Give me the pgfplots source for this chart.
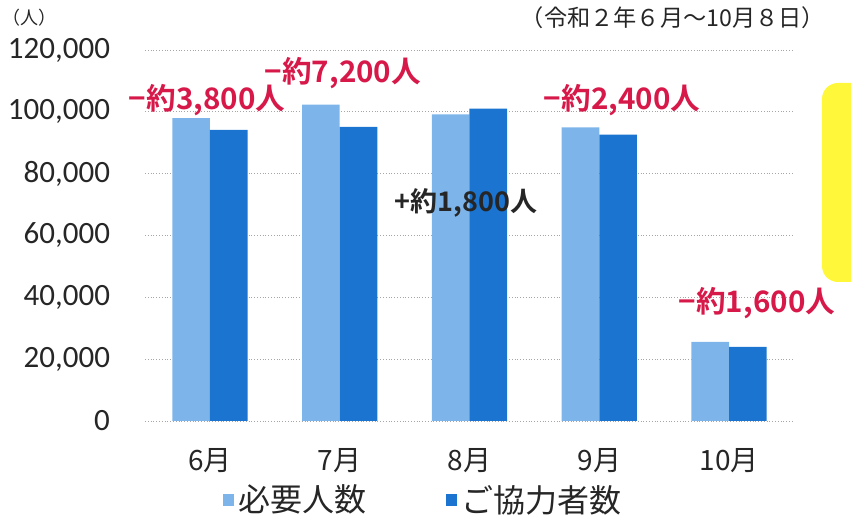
\documentclass[border=0pt]{standalone}
\usepackage{pgfplots}
\pgfplotsset{compat=1.18}
\usepackage{fontspec}
\setmainfont{Carlito}
\newfontfamily\jp{Noto Sans CJK JP}
\newfontfamily\jpb{Noto Sans CJK JP Bold}
\definecolor{need}{HTML}{7DB5EA}
\definecolor{coop}{HTML}{1B74CF}
\definecolor{redlab}{HTML}{D7194A}
\definecolor{yel}{HTML}{FFF83A}
\pgfplotstableread{
x need coop
0 98000 94200
1 102300 95100
2 99200 101000
3 95000 92600
4 25600 24000
}\datatable
\begin{document}
\begin{tikzpicture}
\useasboundingbox (0,0) rectangle (425.5pt,-258.5pt);
\begin{scope}
\clip (0,0) rectangle (425.5pt,-258.5pt);
\fill[yel, rounded corners=8pt] (411pt,-41.5pt) rectangle (440pt,-141pt);
\end{scope}
\node[font=\jp\fontsize{9}{10}\selectfont, text=black!85] at (15pt,-9pt) {（人）};
\node[font=\jp\fontsize{11.6}{12}\selectfont, text=black!85] at (336.5pt,-9pt) {（令和２年６月～10月８日）};
\begin{axis}[
  at={(72.5pt,-210.5pt)}, anchor=south west,
  scale only axis, width=324.5pt, height=185.5pt,
  xmin=-0.5, xmax=4.5, ymin=0, ymax=120000,
  xtick=data, xticklabels={6月,7月,8月,9月,10月},
  ytick={0,20000,40000,60000,80000,100000,120000},
  yticklabels={0,{20,000},{40,000},{60,000},{80,000},{100,000},{120,000}},
  scaled y ticks=false,
  yticklabel style={font=\fontsize{15.5}{16}\selectfont, text=black!85, xshift=-14pt},
  xticklabel style={font=\jp\fontsize{14}{15}\selectfont, text=black!85, yshift=-10pt},
  axis line style={draw=none}, tick style={draw=none},
  ymajorgrids, grid style={black!35, densely dotted},
  clip=false,
  legend columns=2,
  legend style={at={(0.43,-0.213)}, anchor=center, draw=none, fill=none,
    font=\jp\fontsize{16}{17}\selectfont, text=black!85,
    /tikz/every even column/.append style={column sep=38pt}},
  legend image code/.code={\fill[#1] (0pt,-2.8pt) rectangle (5.6pt,2.8pt);},
]
\addplot[ybar, bar width=0.29, bar shift=-0.145, fill=need, draw=none] table[x=x,y=need]{\datatable};
\addlegendentry{必要人数}
\addplot[ybar, bar width=0.29, bar shift=0.145, fill=coop, draw=none] table[x=x,y=coop]{\datatable};
\addlegendentry{ご協力者数}
\node[font=\jpb\fontsize{14.8}{15}\selectfont, text=redlab] at (axis cs:-0.022,103900) {−約3,800人};
\node[font=\jpb\fontsize{14.8}{15}\selectfont, text=redlab] at (axis cs:1.025,112600) {−約7,200人};
\node[font=\jpb\fontsize{14.8}{15}\selectfont, text=redlab] at (axis cs:3.175,103900) {−約2,400人};
\node[font=\jpb\fontsize{14.8}{15}\selectfont, text=redlab] at (axis cs:4.215,38200) {−約1,600人};
\node[font=\jpb\fontsize{13.5}{14}\selectfont, text=black!85] at (axis cs:1.973,70550) {+約1,800人};
\end{axis}
\end{tikzpicture}
\end{document}
